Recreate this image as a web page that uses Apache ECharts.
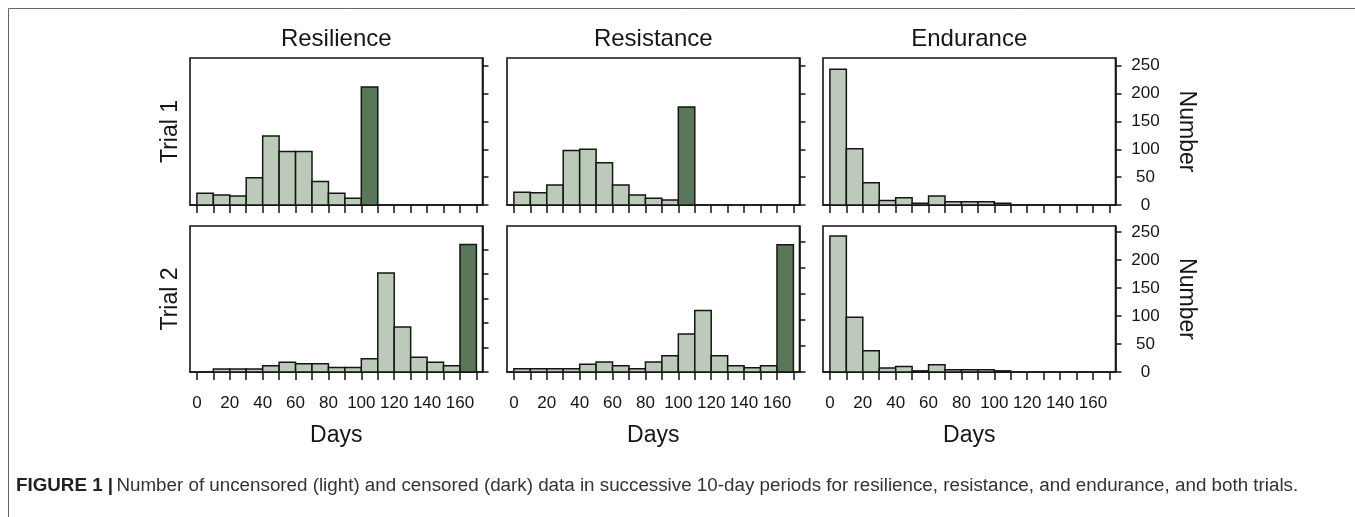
<!DOCTYPE html>
<html><head><meta charset="utf-8">
<script src="https://cdn.jsdelivr.net/npm/echarts@6/dist/echarts.min.js"></script>
<style>html,body{margin:0;padding:0;background:#fff}#c{width:1355px;height:517px}</style>
</head><body><div id="c"></div>
<script>
// ---------- data ----------
const binStarts = [0,10,20,30,40,50,60,70,80,90,100,110,120,130,140,150,160];
const xTickValues = [0,10,20,30,40,50,60,70,80,90,100,110,120,130,140,150,160,170];
const xLabelValues = [0,20,40,60,80,100,120,140,160];
const yTickValues = [0,50,100,150,200,250];
const columnTitles = ['Resilience','Resistance','Endurance'];
const rowTitles = ['Trial 1','Trial 2'];

const resilienceTrial1Light = [21,18,16,49,124,96,96,42,21,12,0,0,0,0,0,0,0];
const resilienceTrial1Dark  = [0,0,0,0,0,0,0,0,0,0,212,0,0,0,0,0,0];
const resistanceTrial1Light = [23,22,36,98,100,76,36,18,12,9,0,0,0,0,0,0,0];
const resistanceTrial1Dark  = [0,0,0,0,0,0,0,0,0,0,176,0,0,0,0,0,0];
const enduranceTrial1Light  = [244,101,40,8,13,3,16,6,6,6,3,0,0,0,0,0,0];
const enduranceTrial1Dark   = [0,0,0,0,0,0,0,0,0,0,0,0,0,0,0,0,0];
const resilienceTrial2Light = [0,6,6,6,13,20,17,17,9,9,27,202,92,30,20,13,0];
const resilienceTrial2Dark  = [0,0,0,0,0,0,0,0,0,0,0,0,0,0,0,0,260];
const resistanceTrial2Light = [6,6,6,6,15,19,12,6,19,31,73,118,31,12,8,12,0];
const resistanceTrial2Dark  = [0,0,0,0,0,0,0,0,0,0,0,0,0,0,0,0,244];
const enduranceTrial2Light  = [243,98,38,7,10,2,13,4,4,4,2,0,0,0,0,0,0];
const enduranceTrial2Dark   = [0,0,0,0,0,0,0,0,0,0,0,0,0,0,0,0,0];

const caption = 'Number of uncensored (light) and censored (dark) data in successive 10-day periods for resilience, resistance, and endurance, and both trials.';

// ---------- layout ----------
const panels = [
  {light: resilienceTrial1Light, dark: resilienceTrial1Dark, ymax: 264},
  {light: resistanceTrial1Light, dark: resistanceTrial1Dark, ymax: 264},
  {light: enduranceTrial1Light,  dark: enduranceTrial1Dark,  ymax: 264},
  {light: resilienceTrial2Light, dark: resilienceTrial2Dark, ymax: 298},
  {light: resistanceTrial2Light, dark: resistanceTrial2Dark, ymax: 280},
  {light: enduranceTrial2Light,  dark: enduranceTrial2Dark,  ymax: 261}
];
const colLeft = [190, 507, 823];
const colW = 292.5;
const rowTop = [58, 226];
const rowH = [147, 146];
const LIGHT = '#bccbb9', DARK = '#5a7759', INK = '#151515';
const tickFont = '"Liberation Sans Narrow","Liberation Sans",Arial,sans-serif';
const mainFont = '"Liberation Sans",Arial,sans-serif';

const grids = [], xAxes = [], yAxes = [], series = [];
panels.forEach((p, i) => {
  const r = Math.floor(i / 3), c = i % 3;
  grids.push({left: colLeft[c], top: rowTop[r], width: colW, height: rowH[r],
    show: true, borderColor: INK, borderWidth: 1.6, backgroundColor: 'transparent', containLabel: false});
  xAxes.push({type: 'value', gridIndex: i, min: -4.2, max: 173.7,
    axisLine: {show: true, onZero: false, lineStyle: {color: INK, width: 1.6}},
    axisTick: {show: true, customValues: xTickValues, length: 8, inside: false, lineStyle: {color: INK, width: 1.5}},
    axisLabel: {show: r === 1, customValues: xLabelValues, fontSize: 17, color: INK, margin: 23, fontFamily: tickFont},
    splitLine: {show: false}});
  yAxes.push({type: 'value', gridIndex: i, position: 'right', min: 0, max: p.ymax,
    axisLine: {show: true, onZero: false, lineStyle: {color: INK, width: 1.6}},
    axisTick: {show: true, customValues: yTickValues, length: 6, inside: false, lineStyle: {color: INK, width: 1.5}},
    axisLabel: {show: c === 2, customValues: yTickValues, fontSize: 17, color: INK, margin: 30, align: 'center', fontFamily: tickFont},
    splitLine: {show: false}});
  [[p.light, LIGHT], [p.dark, DARK]].forEach(([arr, col]) => {
    series.push({type: 'custom', xAxisIndex: i, yAxisIndex: i, clip: false,
      data: binStarts.map((b, k) => [b, arr[k]]),
      encode: {x: 0, y: 1},
      renderItem: function (params, api) {
        const x0 = api.value(0), v = api.value(1);
        if (!v) return null;
        const a = api.coord([x0, 0]), b = api.coord([x0 + 10, v]);
        return {type: 'rect', shape: {x: a[0], y: b[1], width: b[0] - a[0], height: a[1] - b[1]},
          style: {fill: col, stroke: INK, lineWidth: 1.5}};
      }});
  });
});

const graphics = [
  {type: 'rect', x: 0, y: 0, shape: {x: 8.5, y: 8.5, width: 1400, height: 600},
    style: {fill: 'none', stroke: '#666', lineWidth: 1}, silent: true}
];
columnTitles.forEach((t, c) => {
  const cx = colLeft[c] + colW / 2;
  graphics.push({type: 'text', x: cx, y: 39, style: {text: t, font: '24px ' + mainFont, fill: INK, textAlign: 'center', textVerticalAlign: 'middle'}});
  graphics.push({type: 'text', x: cx, y: 436, style: {text: 'Days', font: '23px ' + mainFont, fill: INK, textAlign: 'center', textVerticalAlign: 'middle'}});
});
rowTitles.forEach((t, r) => {
  const cy = rowTop[r] + rowH[r] / 2;
  graphics.push({type: 'text', x: 171, y: cy, rotation: Math.PI / 2, style: {text: t, font: '23px ' + mainFont, fill: INK, textAlign: 'center', textVerticalAlign: 'middle'}});
  graphics.push({type: 'text', x: 1186, y: cy, rotation: -Math.PI / 2, style: {text: 'Number', font: '23px ' + mainFont, fill: INK, textAlign: 'center', textVerticalAlign: 'middle'}});
});
graphics.push({type: 'text', x: 16, y: 486, style: {
  text: '{b|FIGURE 1 |} {n|' + caption + '}',
  rich: {b: {font: 'bold 18.8px ' + mainFont, fill: '#222'}, n: {font: '18.8px ' + mainFont, fill: '#333'}},
  textVerticalAlign: 'middle'}});

const chart = echarts.init(document.getElementById('c'), null, {renderer: 'canvas'});
chart.setOption({animation: false, grid: grids, xAxis: xAxes, yAxis: yAxes, series: series, graphic: graphics});
</script>
</body></html>
